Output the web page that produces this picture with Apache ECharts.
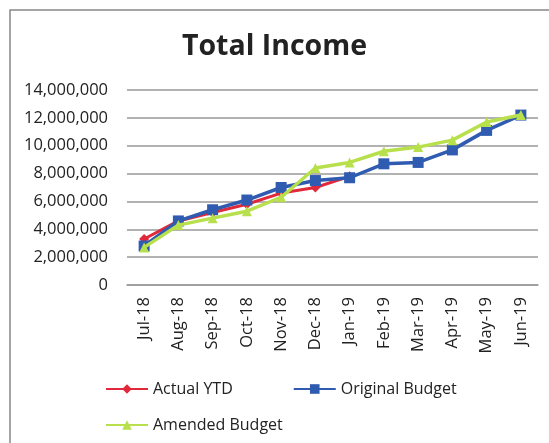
<!DOCTYPE html>
<html><head><meta charset="utf-8">
<script src="https://cdn.jsdelivr.net/npm/echarts@6/dist/echarts.min.js"></script>
<style>html,body{margin:0;padding:0;background:#fff}#c{width:549px;height:443px}</style>
</head><body><div id="c"></div>
<script>
const categories = ['Jul-18','Aug-18','Sep-18','Oct-18','Nov-18','Dec-18','Jan-19','Feb-19','Mar-19','Apr-19','May-19','Jun-19'];
const actualYTD = [3300000,4600000,5200000,5800000,6600000,7000000,7800000,null,null,null,null,null];
const originalBudget = [2800000,4600000,5400000,6100000,7000000,7500000,7700000,8700000,8800000,9700000,11100000,12200000];
const amendedBudget = [2700000,4300000,4800000,5300000,6300000,8400000,8800000,9600000,9900000,10400000,11700000,12200000];

const font = '"Open Sans", "Noto Sans", sans-serif';
const chart = echarts.init(document.getElementById('c'));
chart.setOption({
  animation: false,
  title: {text: 'Total Income', left: 'center', top: 27,
    textStyle: {fontFamily: font, fontWeight: 'bold', fontSize: 28.5, color: '#222'}},
  graphic: [{type: 'rect', shape: {x: 10, y: 10, width: 560, height: 440},
    style: {fill: 'none', stroke: '#888', lineWidth: 1.5}}],
  grid: {left: 127, right: 11, top: 90, bottom: 158},
  xAxis: {type: 'category', data: categories, boundaryGap: true,
    axisLine: {lineStyle: {color: '#999', width: 1.5}}, axisTick: {show: false},
    axisLabel: {rotate: 90, fontFamily: font, fontSize: 16.5, color: '#222', margin: 12}},
  yAxis: {type: 'value', min: 0, max: 14000000, interval: 2000000,
    axisLine: {show: false}, axisTick: {show: false},
    splitLine: {lineStyle: {color: '#999', width: 1.5}},
    axisLabel: {fontFamily: font, fontSize: 16.5, color: '#222', margin: 19,
      formatter: v => v.toLocaleString('en-US')}},
  legend: [
    {data: ['Actual YTD', 'Original Budget'], left: 100, top: 376, itemWidth: 42, itemHeight: 12, itemGap: 60,
      textStyle: {fontFamily: font, fontSize: 16, color: '#222'}},
    {data: ['Amended Budget'], left: 100, top: 412, itemWidth: 42, itemHeight: 12,
      textStyle: {fontFamily: font, fontSize: 16, color: '#222'}}
  ],
  series: [
    {name: 'Original Budget', type: 'line', data: originalBudget, z: 3,
      symbol: 'rect', symbolSize: 11, lineStyle: {color: '#2f5bb0', width: 3.5}, itemStyle: {color: '#2f5bb0'}},
    {name: 'Actual YTD', type: 'line', data: actualYTD, z: 2,
      symbol: 'diamond', symbolSize: 10, lineStyle: {color: '#e0293a', width: 3}, itemStyle: {color: '#e0293a'}},
    {name: 'Amended Budget', type: 'line', data: amendedBudget, z: 4,
      symbol: 'triangle', symbolSize: 10, lineStyle: {color: '#b8e04c', width: 3.5}, itemStyle: {color: '#b8e04c'}}
  ]
});
</script></body></html>
